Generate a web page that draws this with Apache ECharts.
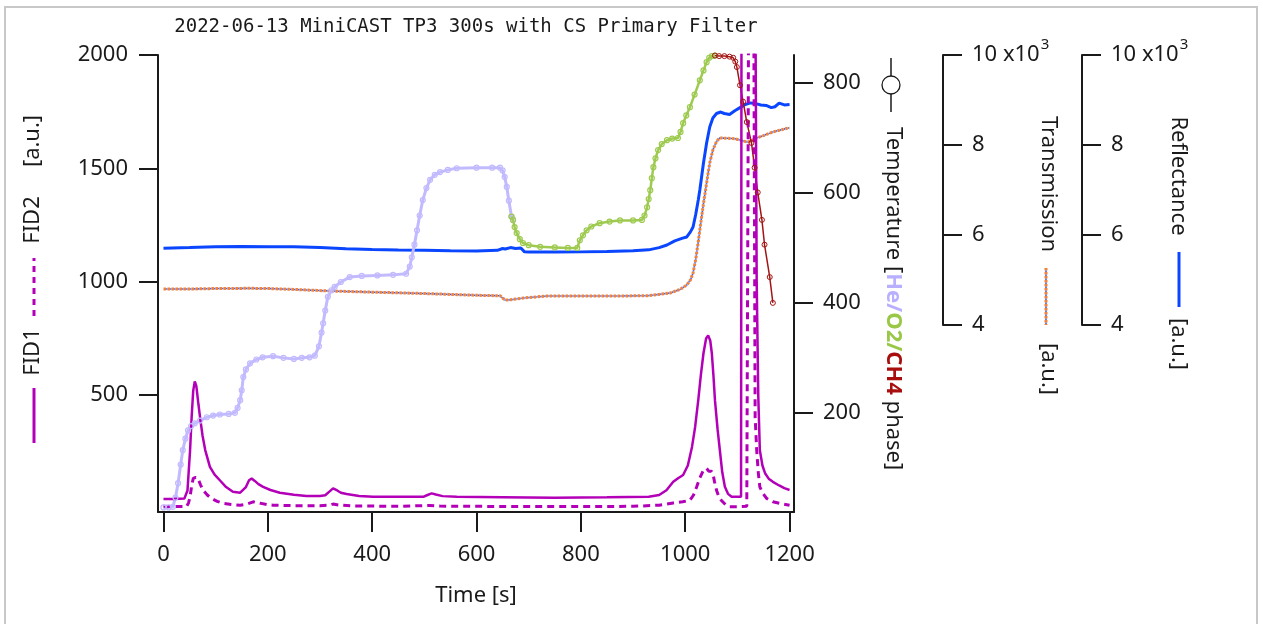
<!DOCTYPE html>
<html><head><meta charset="utf-8">
<script src="https://cdn.jsdelivr.net/npm/echarts@6/dist/echarts.min.js"></script>
<style>html,body{margin:0;padding:0;background:#fff}#c{width:1263px;height:624px}</style>
</head><body><div id="c"></div>
<script>
// ---------- tick values ----------
const xTicks = [0, 200, 400, 600, 800, 1000, 1200];
const fidTicks = [500, 1000, 1500, 2000];
const tempTicks = [200, 400, 600, 800];
const optTicks = [4000, 6000, 8000, 10000];

// ---------- FID1 (solid) ----------
const fid1T = [0,20,40,46,51,54,57,60,63,67,70,75,80,89,98,108,120,133,147,158,164,169,175,182,191,205,223,250,274,300,310,318,325,333,340,351,375,402,450,498,506,514,522,535,562,650,750,850,930,950,964,977,987,996,1005,1013,1019,1025,1030,1035,1040,1044,1048,1051,1054,1057,1062,1067,1071,1076,1082,1089,1100,1107,1108,1134,1137,1140,1143,1148,1153,1160,1168,1180,1190,1200];
const fid1V = [42,42,44,80,258,404,520,561,540,460,404,320,258,184,150,125,95,74,70,95,125,133,122,108,96,82,70,61,56,56,59,75,89,80,70,64,56,52,52,52,60,67,62,55,52,50,48,50,52,60,81,118,135,148,190,272,360,478,590,685,750,764,740,685,590,478,350,244,160,96,65,52,52,52,2500,2500,1000,500,258,190,156,132,118,102,90,82];

// ---------- FID2 (dashed) ----------
const fid2T = [0,20,44,48,51,54,57,62,66,71,76,84,92,103,114,130,147,160,172,185,200,210,250,300,319,325,335,360,450,510,530,600,700,800,900,950,977,995,1009,1016,1022,1028,1035,1041,1045,1047,1050,1053,1056,1060,1064,1069,1077,1085,1100,1118,1121,1122,1131,1134,1137,1140,1143,1148,1156,1168,1182,1200];
const fid2V = [10,9,9,25,52,100,133,138,133,105,81,60,45,32,23,18,15,20,30,24,17,15,13,13,15,20,16,12,10,14,11,10,9,9,10,15,25,30,37,60,96,135,170,177,165,162,165,156,120,81,55,37,18,8,8,10,12,2500,2500,404,258,160,96,70,45,30,23,15];

// ---------- Temperature: He phase ----------
const heT = [0,10,18,23,28,33,37,42,47,53,60,70,83,95,108,125,137,142,147,150,153,158,166,178,190,210,230,250,265,280,290,298,303,306,310,315,322,328,340,357,380,410,440,465,472,476,481,486,491,497,504,511,520,530,545,562,600,630,645,650,654,658,662,667,670];
const heV = [27,27,28,45,71,105,131,152,167,175,180,185,191,194,196,197,199,208,222,240,264,278,289,296,300,302,299,297,299,300,303,320,345,362,385,410,422,428,437,446,448,449,450,452,465,482,505,531,558,586,608,623,632,637,641,644,645,645,645,640,628,610,585,556,550];

// ---------- Temperature: O2 phase ----------
const o2T = [667,670,673,677,683,689,700,722,750,775,793,798,804,811,820,836,855,875,900,917,922,927,930,933,936,939,943,948,955,965,975,986,991,996,1002,1009,1018,1028,1035,1041,1046,1051,1057];
const o2V = [556,550,537,526,515,508,504,501,500,499,499,513,522,531,538,544,547,549,549,550,558,573,588,604,626,646,662,677,688,695,698,699,710,726,740,755,778,804,822,837,845,848,849];

// ---------- Temperature: CH4 phase ----------
const ch4T = [1057,1065,1075,1085,1092,1096,1099,1105,1111,1118,1127,1133,1139,1147,1152,1162,1168];
const ch4V = [849,848,848,847,845,838,828,795,765,728,690,645,600,550,505,446,399];

// ---------- Reflectance ----------
const reflT = [0,50,100,150,200,250,300,350,400,450,500,550,600,640,650,655,665,675,685,692,700,750,800,850,900,930,950,965,980,995,1003,1010,1015,1020,1025,1028,1035,1041,1047,1053,1060,1068,1075,1085,1095,1105,1115,1125,1135,1145,1155,1165,1172,1180,1190,1200];
const reflV = [5705,5720,5740,5745,5738,5740,5722,5692,5676,5665,5660,5650,5645,5660,5700,5690,5720,5700,5710,5625,5620,5620,5625,5632,5648,5670,5720,5778,5870,5930,5956,6070,6178,6450,6780,7000,7600,8044,8400,8600,8700,8733,8700,8680,8760,8830,8900,8935,8920,8890,8880,8830,8850,8930,8890,8900];

// ---------- Transmission ----------
const trT = [0,50,100,166,200,250,319,400,486,550,600,645,650,655,665,690,735,800,870,927,950,971,990,1003,1010,1015,1020,1025,1028,1035,1041,1047,1053,1060,1066,1080,1095,1104,1118,1125,1137,1150,1168,1185,1197,1200];
const trV = [4800,4800,4810,4815,4810,4790,4756,4730,4704,4680,4660,4650,4600,4555,4560,4600,4644,4645,4645,4650,4680,4711,4790,4889,5000,5155,5450,5850,6111,6700,7155,7600,7889,8080,8155,8150,8140,8111,8067,8080,8155,8210,8289,8340,8378,8380];

function pairs(t, v) { return t.map((x, i) => [x, v[i]]); }

const FONT = "'Noto Sans','Open Sans',sans-serif";
const BLK = '#1a1a1a';
const PURPLE = '#b300b8', LAV = '#c2baff', GREEN = '#9dca4f', DRED = '#a31515',
      BLUE = '#0a46ff', ORANGE = '#f0823c', DOTBLUE = '#4b5bd6';
const XMIN = -10.5, XMAX = 1208.5;
const plainFmt = v => String(v);

function yAxisCfg(extra) {
  return Object.assign({
    type: 'value', splitLine: { show: false },
    axisLine: { show: true, onZero: false, lineStyle: { color: BLK, width: 2 } },
    axisTick: { show: true, length: 19, lineStyle: { color: BLK, width: 2 } },
    axisLabel: { fontSize: 22, color: BLK, fontFamily: FONT, margin: 29 }
  }, extra);
}

const optLabelFmt = v => v === 10000 ? '{m|10 x10}{s|3}' : '{m|' + (v / 1000) + '}';
const optRich = { m: { fontSize: 22, color: BLK, fontFamily: FONT }, s: { fontSize: 15, color: BLK, fontFamily: FONT, padding: [0, 0, 20, 1] } };

const option = {
  animation: false,
  backgroundColor: '#fff',
  textStyle: { fontFamily: FONT },
  grid: [
    { left: 158, right: 469, top: 55, bottom: 112 },
    { left: 158, right: 469, top: 55, bottom: 299 }
  ],
  xAxis: [
    {
      gridIndex: 0, type: 'value', min: XMIN, max: XMAX, splitLine: { show: false },
      axisLine: { show: true, onZero: false, lineStyle: { color: BLK, width: 2 } },
      axisTick: { show: true, customValues: xTicks, length: 20, lineStyle: { color: BLK, width: 2 } },
      axisLabel: { customValues: xTicks, formatter: plainFmt, margin: 32, fontSize: 22, color: BLK, fontFamily: FONT },
      name: 'Time [s]', nameLocation: 'middle', nameGap: 73,
      nameTextStyle: { fontSize: 22, color: BLK, fontFamily: FONT }
    },
    { gridIndex: 1, type: 'value', min: XMIN, max: XMAX, show: false }
  ],
  yAxis: [
    yAxisCfg({ gridIndex: 0, position: 'left', min: -15, max: 2000,
      axisTick: { show: true, customValues: fidTicks, length: 19, lineStyle: { color: BLK, width: 2 } },
      axisLabel: { customValues: fidTicks, formatter: plainFmt, fontSize: 22, color: BLK, fontFamily: FONT, margin: 30 } }),
    yAxisCfg({ gridIndex: 0, position: 'right', min: 18.6, max: 850,
      axisTick: { show: true, customValues: tempTicks, length: 19, lineStyle: { color: BLK, width: 2 } },
      axisLabel: { customValues: tempTicks, formatter: plainFmt, fontSize: 22, color: BLK, fontFamily: FONT, margin: 29 } }),
    yAxisCfg({ gridIndex: 1, position: 'right', offset: 149, min: 4000, max: 10000,
      axisTick: { show: true, customValues: optTicks, length: 19, lineStyle: { color: BLK, width: 2 } },
      axisLabel: { customValues: optTicks, margin: 29, formatter: optLabelFmt, rich: optRich } }),
    yAxisCfg({ gridIndex: 1, position: 'right', offset: 288, min: 4000, max: 10000,
      axisTick: { show: true, customValues: optTicks, length: 19, lineStyle: { color: BLK, width: 2 } },
      axisLabel: { customValues: optTicks, margin: 29, formatter: optLabelFmt, rich: optRich } })
  ],
  series: [
    { name: 'Reflectance', type: 'line', xAxisIndex: 1, yAxisIndex: 3, data: pairs(reflT, reflV),
      showSymbol: false, lineStyle: { color: BLUE, width: 3 }, itemStyle: { color: BLUE } },
    { name: 'Transmission', type: 'line', xAxisIndex: 1, yAxisIndex: 2, data: pairs(trT, trV),
      showSymbol: false, lineStyle: { color: ORANGE, width: 3, type: [2.5, 1.5] }, itemStyle: { color: ORANGE } },
    { name: 'TransmissionDots', type: 'line', xAxisIndex: 1, yAxisIndex: 2, data: pairs(trT, trV),
      showSymbol: false, lineStyle: { color: DOTBLUE, width: 1.6, type: [1.3, 2.7], dashOffset: -2.6 }, itemStyle: { color: DOTBLUE } },
    { name: 'He', type: 'line', xAxisIndex: 0, yAxisIndex: 1, data: pairs(heT, heV),
      symbol: 'circle', symbolSize: 5, showSymbol: true,
      lineStyle: { color: LAV, width: 3 }, itemStyle: { color: 'rgba(255,255,255,0)', borderColor: LAV, borderWidth: 1.2 } },
    { name: 'O2', type: 'line', xAxisIndex: 0, yAxisIndex: 1, data: pairs(o2T, o2V),
      symbol: 'circle', symbolSize: 5, showSymbol: true,
      lineStyle: { color: GREEN, width: 2.5 }, itemStyle: { color: 'rgba(255,255,255,0)', borderColor: GREEN, borderWidth: 1.2 } },
    { name: 'CH4', type: 'line', xAxisIndex: 0, yAxisIndex: 1, data: pairs(ch4T, ch4V),
      symbol: 'circle', symbolSize: 5, showSymbol: true,
      lineStyle: { color: DRED, width: 1.5 }, itemStyle: { color: 'rgba(255,255,255,0)', borderColor: DRED, borderWidth: 1 } },
    { name: 'FID2', type: 'line', xAxisIndex: 0, yAxisIndex: 0, data: pairs(fid2T, fid2V),
      showSymbol: false, lineStyle: { color: PURPLE, width: 3, type: [7, 5] }, itemStyle: { color: PURPLE } },
    { name: 'FID1', type: 'line', xAxisIndex: 0, yAxisIndex: 0, data: pairs(fid1T, fid1V),
      showSymbol: false, lineStyle: { color: PURPLE, width: 2.5 }, itemStyle: { color: PURPLE } }
  ],
  graphic: [
    { type: 'rect', silent: true, shape: { x: 5, y: 7, width: 1252, height: 640 },
      style: { fill: 'none', stroke: '#c8c8c8', lineWidth: 2 } },
    { type: 'text', x: 466, y: 27, silent: true,
      style: { text: '2022-06-13 MiniCAST TP3 300s with CS Primary Filter', fontSize: 19, fontFamily: "'DejaVu Sans Mono','Liberation Mono',monospace",
        fill: BLK, align: 'center', textAlign: 'center', verticalAlign: 'middle', textVerticalAlign: 'middle' } },
    // left axis title (reads bottom to top)
    { type: 'line', silent: true, shape: { x1: 34, y1: 443, x2: 34, y2: 388 }, style: { stroke: PURPLE, lineWidth: 3 } },
    { type: 'text', x: 33, y: 352, rotation: Math.PI / 2, silent: true,
      style: { text: 'FID1', fontSize: 22, fontFamily: FONT, fill: BLK, align: 'center', textAlign: 'center', verticalAlign: 'middle', textVerticalAlign: 'middle' } },
    { type: 'line', silent: true, shape: { x1: 34, y1: 316, x2: 34, y2: 258 }, style: { stroke: PURPLE, lineWidth: 3, lineDash: [6, 5] } },
    { type: 'text', x: 33, y: 220, rotation: Math.PI / 2, silent: true,
      style: { text: 'FID2', fontSize: 22, fontFamily: FONT, fill: BLK, align: 'center', textAlign: 'center', verticalAlign: 'middle', textVerticalAlign: 'middle' } },
    { type: 'text', x: 33, y: 141, rotation: Math.PI / 2, silent: true,
      style: { text: '[a.u.]', fontSize: 22, fontFamily: FONT, fill: BLK, align: 'center', textAlign: 'center', verticalAlign: 'middle', textVerticalAlign: 'middle' } },
    // temperature title (reads top to bottom)
    { type: 'line', silent: true, shape: { x1: 891, y1: 58, x2: 891, y2: 112 }, style: { stroke: BLK, lineWidth: 1.5 } },
    { type: 'circle', silent: true, shape: { cx: 891, cy: 85, r: 9 }, style: { fill: '#fff', stroke: BLK, lineWidth: 1.3 } },
    { type: 'text', x: 893, y: 127, rotation: -Math.PI / 2, silent: true,
      style: { text: '{n|Temperature [}{he|He/}{o2|O2/}{ch|CH4}{n| phase]}',
        align: 'left', textAlign: 'left', verticalAlign: 'middle', textVerticalAlign: 'middle',
        rich: {
          n: { fontSize: 22, fontFamily: FONT, fill: BLK },
          he: { fontSize: 22, fontFamily: FONT, fill: '#b8b0ff', fontWeight: 'bold' },
          o2: { fontSize: 22, fontFamily: FONT, fill: '#99c847', fontWeight: 'bold' },
          ch: { fontSize: 22, fontFamily: FONT, fill: '#a80e0e', fontWeight: 'bold' }
        } } },
    // transmission title
    { type: 'text', x: 1048, y: 184, rotation: -Math.PI / 2, silent: true,
      style: { text: 'Transmission', fontSize: 22, fontFamily: FONT, fill: BLK, align: 'center', textAlign: 'center', verticalAlign: 'middle', textVerticalAlign: 'middle' } },
    { type: 'line', silent: true, shape: { x1: 1046, y1: 268, x2: 1046, y2: 325 }, style: { stroke: ORANGE, lineWidth: 3, lineDash: [2.5, 1.5] } },
    { type: 'line', silent: true, shape: { x1: 1046, y1: 268, x2: 1046, y2: 325 }, style: { stroke: DOTBLUE, lineWidth: 1.6, lineDash: [1.3, 2.7], lineDashOffset: -2.6 } },
    { type: 'text', x: 1048, y: 369, rotation: -Math.PI / 2, silent: true,
      style: { text: '[a.u.]', fontSize: 22, fontFamily: FONT, fill: BLK, align: 'center', textAlign: 'center', verticalAlign: 'middle', textVerticalAlign: 'middle' } },
    // reflectance title
    { type: 'text', x: 1178, y: 176, rotation: -Math.PI / 2, silent: true,
      style: { text: 'Reflectance', fontSize: 22, fontFamily: FONT, fill: BLK, align: 'center', textAlign: 'center', verticalAlign: 'middle', textVerticalAlign: 'middle' } },
    { type: 'line', silent: true, shape: { x1: 1179, y1: 252, x2: 1179, y2: 307 }, style: { stroke: BLUE, lineWidth: 3 } },
    { type: 'text', x: 1178, y: 344, rotation: -Math.PI / 2, silent: true,
      style: { text: '[a.u.]', fontSize: 22, fontFamily: FONT, fill: BLK, align: 'center', textAlign: 'center', verticalAlign: 'middle', textVerticalAlign: 'middle' } }
  ]
};

const chart = echarts.init(document.getElementById('c'), null, { renderer: 'canvas' });
chart.setOption(option);
</script>
</body></html>
